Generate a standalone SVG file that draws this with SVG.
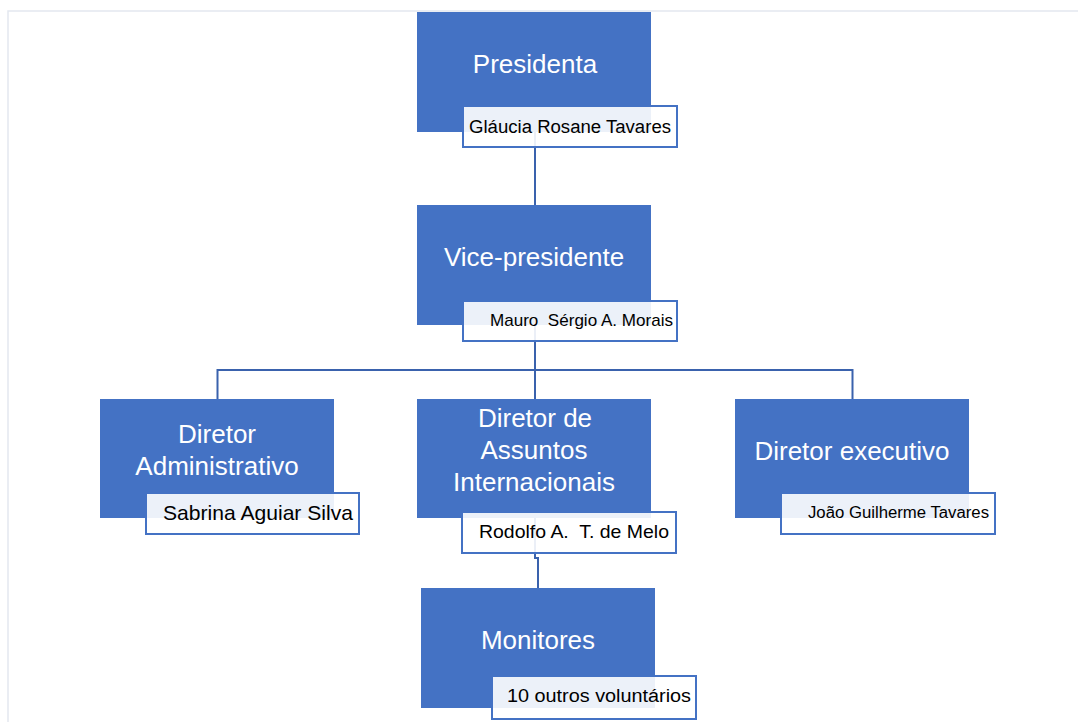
<svg xmlns="http://www.w3.org/2000/svg" width="1078" height="722" viewBox="0 0 1078 722">
<style>
.box{fill:#4472c4}
.sub{fill:#ffffff;fill-opacity:0.9;stroke:#4472c4;stroke-width:2}
.t{font-family:"Liberation Sans",Arial,sans-serif;fill:#ffffff;font-size:26px;text-anchor:middle}
.s{font-family:"Liberation Sans",Arial,sans-serif;fill:#000000;text-anchor:end}
.c{fill:none;stroke:#3a62ad;stroke-width:2}
</style>
<rect x="0" y="0" width="1078" height="722" fill="#ffffff"/>
<path d="M8 722 V11 H1078" fill="none" stroke="#e3e8f0" stroke-width="1.5"/>
<g id="connectors">
<path class="c" d="M535 132 V206"/>
<path class="c" d="M535 325 V370"/>
<path class="c" d="M217.5 399 V370 H852.5 V399"/>
<path class="c" d="M535 370 V399"/>
<path class="c" d="M535 518 V558 H538 V588"/>
</g>
<g id="presidenta">
<rect class="box" x="417" y="12" width="234" height="120"/>
<text class="t" x="535" y="73">Presidenta</text>
<rect class="sub" x="463" y="106" width="214" height="41"/>
<text class="s" x="671" y="133" font-size="18" textLength="202" lengthAdjust="spacingAndGlyphs">Gláucia Rosane Tavares</text>
</g>
<g id="vice">
<rect class="box" x="417" y="205" width="234" height="120"/>
<text class="t" x="534" y="266">Vice-presidente</text>
<rect class="sub" x="463" y="301" width="214" height="40"/>
<text class="s" x="673" y="326" font-size="17" textLength="183" lengthAdjust="spacingAndGlyphs" xml:space="preserve">Mauro  Sérgio A. Morais</text>
</g>
<g id="dir-admin">
<rect class="box" x="100" y="399" width="234" height="119"/>
<text class="t" x="217" y="443">Diretor</text>
<text class="t" x="217" y="475">Administrativo</text>
<rect class="sub" x="146" y="493" width="213" height="41"/>
<text class="s" x="353" y="520" font-size="21" textLength="190" lengthAdjust="spacingAndGlyphs">Sabrina Aguiar Silva</text>
</g>
<g id="dir-intl">
<rect class="box" x="417" y="399" width="234" height="119"/>
<text class="t" x="535" y="427">Diretor de</text>
<text class="t" x="534" y="459">Assuntos</text>
<text class="t" x="534" y="491">Internacionais</text>
<rect class="sub" x="462" y="512" width="214" height="41"/>
<text class="s" x="669" y="538" font-size="19" textLength="190" lengthAdjust="spacingAndGlyphs" xml:space="preserve">Rodolfo A.  T. de Melo</text>
</g>
<g id="dir-exec">
<rect class="box" x="735" y="399" width="234" height="119"/>
<text class="t" x="852" y="460">Diretor executivo</text>
<rect class="sub" x="781" y="493" width="214" height="41"/>
<text class="s" x="989" y="518" font-size="16" textLength="181" lengthAdjust="spacingAndGlyphs">João Guilherme Tavares</text>
</g>
<g id="monitores">
<rect class="box" x="421" y="588" width="234" height="120"/>
<text class="t" x="538" y="649">Monitores</text>
<rect class="sub" x="492" y="676" width="204" height="43"/>
<text class="s" x="691" y="702" font-size="18" textLength="184" lengthAdjust="spacingAndGlyphs">10 outros voluntários</text>
</g>
</svg>
